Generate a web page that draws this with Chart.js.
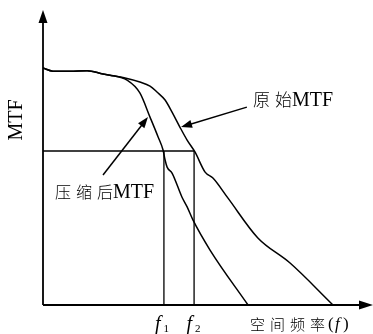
<!DOCTYPE html>
<html>
<head>
<meta charset="utf-8">
<script src="https://cdn.jsdelivr.net/npm/chart.js@4.4.0/dist/chart.umd.min.js"></script>
<style>
  html, body { margin: 0; padding: 0; background: #fff; }
  #wrap { width: 373px; height: 334px; }
</style>
</head>
<body>
<div id="wrap"><canvas id="mtfChart" width="373" height="334"></canvas></div>
<script>
// spatial frequency (normalised) and MTF values
const originalFreq = [0, 0.034, 0.093, 0.152, 0.207, 0.231, 0.283, 0.334, 0.369, 0.393, 0.421, 0.445, 0.472, 0.497, 0.524, 0.559, 0.586, 0.638, 0.741, 0.852, 1.0]
const originalMtf  = [1.0, 0.987, 0.987, 0.989, 0.975, 0.970, 0.958, 0.941, 0.924, 0.899, 0.865, 0.814, 0.751, 0.696, 0.646, 0.561, 0.536, 0.451, 0.283, 0.177, 0]

const compressedFreq = [0, 0.034, 0.093, 0.152, 0.207, 0.231, 0.290, 0.334, 0.369, 0.397, 0.414, 0.421, 0.428, 0.445, 0.479, 0.497, 0.517, 0.576, 0.707]
const compressedMtf  = [1.0, 0.987, 0.987, 0.989, 0.975, 0.970, 0.949, 0.895, 0.793, 0.709, 0.654, 0.612, 0.582, 0.557, 0.456, 0.414, 0.359, 0.232, 0]

const threshold = 0.65
const f1 = 0.417
const f2 = 0.521

const xMax = 1.138
const yMax = 1.245

const toPoints = (xs, ys) => xs.map((x, i) => ({ x: x, y: ys[i] }))

const serif = "'Liberation Serif', 'Times New Roman', serif"
const cjk = "'Noto Sans CJK SC', sans-serif"

function arrowHead(ctx, x, y, angle, len, half) {
    ctx.save()
    ctx.translate(x, y)
    ctx.rotate(angle)
    ctx.beginPath()
    ctx.moveTo(0, 0)
    ctx.lineTo(-len, -half)
    ctx.lineTo(-len, half)
    ctx.closePath()
    ctx.fill()
    ctx.restore()
}

function pointer(ctx, x0, y0, x1, y1) {
    const a = Math.atan2(y1 - y0, x1 - x0)
    ctx.beginPath()
    ctx.moveTo(x0, y0)
    ctx.lineTo(x1 - Math.cos(a) * 8, y1 - Math.sin(a) * 8)
    ctx.stroke()
    arrowHead(ctx, x1, y1, a, 11, 4)
}

// chinese characters one by one, then the latin part
function mixedLabel(ctx, chars, latin, x, y, pitch, cjkSize, latinSize) {
    ctx.textAlign = 'left'
    ctx.textBaseline = 'middle'
    ctx.font = '300 ' + cjkSize + 'px ' + cjk
    for (let i = 0; i < chars.length; i++) {
        ctx.fillText(chars[i], x + i * pitch, y)
    }
    ctx.font = latinSize + 'px ' + serif
    ctx.fillText(latin, x + (chars.length - 1) * pitch + cjkSize, y + 1)
}

function freqLabel(ctx, x, y, sub) {
    ctx.textBaseline = 'alphabetic'
    ctx.textAlign = 'left'
    ctx.font = 'italic 20px ' + serif
    ctx.fillText('f', x - 9, y)
    ctx.font = '11px ' + serif
    ctx.fillText(sub, x - 0.5, y + 2)
}

const decorations = {
    id: 'decorations',
    afterDraw(chart) {
        const ctx = chart.ctx
        const xs = chart.scales.x
        const ys = chart.scales.y
        const area = chart.chartArea
        const x0 = xs.getPixelForValue(0)
        const y0 = ys.getPixelForValue(0)

        ctx.save()
        ctx.strokeStyle = '#000'
        ctx.fillStyle = '#000'

        // axes with arrow tips
        ctx.lineWidth = 1.8
        ctx.beginPath()
        ctx.moveTo(x0, y0)
        ctx.lineTo(x0, area.top + 8)
        ctx.moveTo(x0, y0)
        ctx.lineTo(area.right - 8, y0)
        ctx.stroke()
        arrowHead(ctx, x0, area.top, -Math.PI / 2, 13, 4.5)
        arrowHead(ctx, area.right, y0, 0, 14, 4.5)

        // pointers to the curves
        ctx.lineWidth = 1.5
        pointer(ctx, xs.getPixelForValue(0.703), ys.getPixelForValue(0.835),
                     xs.getPixelForValue(0.476), ys.getPixelForValue(0.751))
        pointer(ctx, xs.getPixelForValue(0.207), ys.getPixelForValue(0.549),
                     xs.getPixelForValue(0.362), ys.getPixelForValue(0.793))

        // curve labels
        mixedLabel(ctx, ['原', '始'], 'MTF', xs.getPixelForValue(0.724), ys.getPixelForValue(0.865), 22, 17, 20)
        mixedLabel(ctx, ['压', '缩', '后'], 'MTF', xs.getPixelForValue(0.041), ys.getPixelForValue(0.477), 21, 16, 20)

        // y axis title
        ctx.save()
        ctx.translate(x0 - 26, ys.getPixelForValue(0.781))
        ctx.rotate(-Math.PI / 2)
        ctx.textAlign = 'center'
        ctx.textBaseline = 'middle'
        ctx.font = '20px ' + serif
        ctx.fillText('MTF', 0, 0)
        ctx.restore()

        // x axis labels
        freqLabel(ctx, xs.getPixelForValue(f1), y0 + 25, '1')
        freqLabel(ctx, xs.getPixelForValue(f2) + 1.5, y0 + 25, '2')

        const lx = xs.getPixelForValue(0.714)
        ctx.textBaseline = 'middle'
        ctx.textAlign = 'left'
        ctx.font = '300 15px ' + cjk
        const title = ['空', '间', '频', '率']
        title.forEach((c, i) => ctx.fillText(c, lx + i * 20, y0 + 19))
        ctx.font = '17px ' + serif
        ctx.fillText('(', lx + 78, y0 + 20)
        ctx.font = 'italic 17px ' + serif
        ctx.fillText('f', lx + 85, y0 + 20)
        ctx.font = '17px ' + serif
        ctx.fillText(')', lx + 93, y0 + 20)

        ctx.restore()
    }
}

const lineStyle = {
    borderColor: '#000',
    backgroundColor: '#000',
    borderWidth: 1.5,
    pointRadius: 0,
    showLine: true,
    fill: false
}

new Chart(document.getElementById('mtfChart'), {
    type: 'scatter',
    data: {
        datasets: [
            { ...lineStyle, label: '原始MTF', data: toPoints(originalFreq, originalMtf), cubicInterpolationMode: 'monotone' },
            { ...lineStyle, label: '压缩后MTF', data: toPoints(compressedFreq, compressedMtf), cubicInterpolationMode: 'monotone' },
            { ...lineStyle, label: 'threshold', borderWidth: 1.3, data: [{ x: 0, y: threshold }, { x: f2, y: threshold }] },
            { ...lineStyle, label: 'f1', borderWidth: 1.3, data: [{ x: f1, y: 0 }, { x: f1, y: threshold }] },
            { ...lineStyle, label: 'f2', borderWidth: 1.3, data: [{ x: f2, y: 0 }, { x: f2, y: threshold }] }
        ]
    },
    options: {
        responsive: false,
        animation: false,
        layout: { padding: { left: 43, right: 0, top: 10, bottom: 29 } },
        plugins: { legend: { display: false }, tooltip: { enabled: false } },
        scales: {
            x: { type: 'linear', min: 0, max: xMax, display: false },
            y: { type: 'linear', min: 0, max: yMax, display: false }
        }
    },
    plugins: [decorations]
})
</script>
</body>
</html>
